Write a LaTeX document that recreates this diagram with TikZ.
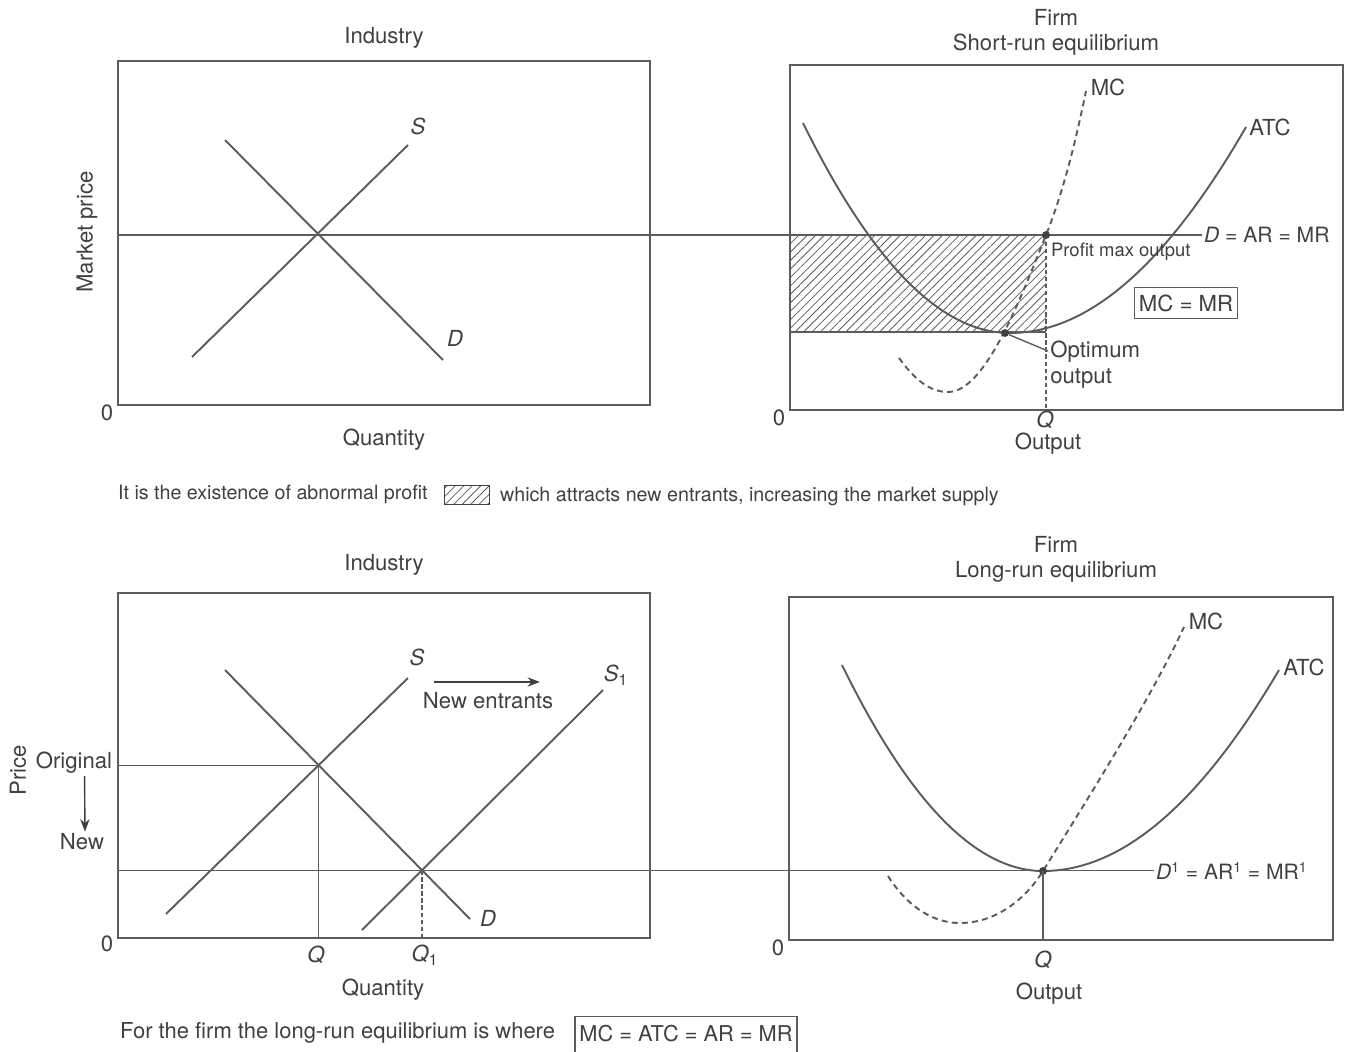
\documentclass[tikz,border=0pt]{standalone}
\usepackage{fontspec}
\setmainfont{TeX Gyre Heros}
\usepackage{xcolor}
\usetikzlibrary{positioning,arrows.meta,patterns.meta}

\definecolor{ink}{gray}{0.25}
\definecolor{linegray}{gray}{0.36}

\begin{document}
\begin{tikzpicture}[
  x=0.02cm, y=-0.02cm,
  lbl/.style={font=\fontsize{12.6}{14.4}\selectfont, text=ink, inner sep=1pt},
  ilbl/.style={lbl, font=\fontsize{12.6}{14.4}\selectfont\itshape},
  captxt/.style={font=\fontsize{11.2}{13}\selectfont, text=ink, inner sep=1pt},
  panel/.style={draw=linegray, line width=0.8pt},
  costline/.style={draw=linegray, line width=1.1pt},
  mcline/.style={draw=linegray, line width=1.1pt, dash pattern=on 3.4pt off 2.4pt},
  pline/.style={draw=linegray, line width=0.8pt},
  qdash/.style={draw=linegray, line width=0.7pt, dash pattern=on 2.4pt off 1.6pt},
  eqdot/.style={circle, fill=ink, inner sep=0pt, minimum size=4.5pt},
  abhatch/.style={pattern={Lines[angle=45, distance=3.4pt, line width=0.45pt]}, pattern color=linegray},
  arr/.style={-{Stealth[length=2.5mm]}, line width=0.8pt, draw=ink},
]
  \useasboundingbox (0,0) rectangle (1348,1051);

  % industry, short run
  \draw[panel] (118,61) rectangle (650,405);
  \node[lbl] (indA) at (384,38) {Industry};
  \node[lbl, rotate=90] (mpA) at (87,232) {Market price};
  \node[lbl] (zeroA) at (107,413) {0};
  \node[lbl] (qtyA) at (384,440) {Quantity};
  \coordinate (sA0) at (192,357); \coordinate (sA1) at (408,145);
  \coordinate (dA0) at (225,140); \coordinate (dA1) at (443,360);
  \draw[costline] (sA0) -- (sA1);
  \draw[costline] (dA0) -- (dA1);
  \node[ilbl] (sAl) at (418,126) {S};
  \node[ilbl] (dAl) at (455,338) {D};
  \coordinate (pA0) at (118,235); \coordinate (pA1) at (1202,235);
  \draw[pline] (pA0) -- (pA1);
  \node[lbl, font=\fontsize{12}{14}\selectfont, anchor=west] (darA) at (pA1) {\textit{D} = AR = MR};

  % firm, short run
  \draw[panel] (790,65) rectangle (1343,410);
  \node[lbl, align=center] (firmA) at (1056,32) {Firm\\Short-run equilibrium};
  \fill[abhatch] (790,235) rectangle (1046,332);
  \draw[pline] (790,332) -- (1046,332);
  \draw[qdash] (1046,235) -- (1046,410);
  \draw[costline] (803,123) .. controls (872,263) and (941,333) .. (1010,333)
    .. controls (1089,333) and (1167,264) .. (1246,127);
  \draw[mcline] (899,358) .. controls (915,380) and (930,392) .. (948,392)
    .. controls (985,392) and (1020,300) .. (1046,235)
    .. controls (1065,188) and (1078,130) .. (1086,91);
  \node[lbl] (mcA) at (1108,87) {MC};
  \node[lbl] (atcA) at (1270,127) {ATC};
  \node[eqdot] (maxdot) at (1046,235) {};
  \node[eqdot] (optdot) at (1005,333) {};
  \node[lbl, font=\fontsize{10.5}{12}\selectfont, anchor=west] (pmax) at (1049,252) {Profit max output};
  \node[lbl, anchor=north west, align=left, inner sep=0pt] (opt) at (1050,341) {Optimum\\output};
  \coordinate (optend) at (1048,351);
  \draw[pline] (optdot) -- (optend);
  \node[lbl, draw=linegray, line width=0.7pt, minimum width=59pt, minimum height=17.5pt, inner sep=2pt] (mcmr) at (1186,303) {MC = MR};
  \node[lbl] (zeroB) at (779,418) {0};
  \node[ilbl] (qA) at (1045,420) {Q};
  \node[lbl] (outA) at (1048,444) {Output};

  % caption
  \node[captxt, anchor=west] (capA) at (116,494) {It is the existence of abnormal profit};
  \node[draw=ink, line width=0.6pt, abhatch, minimum width=26pt, minimum height=11.3pt, inner sep=0pt] (legend) at (467,495) {};
  \node[captxt, anchor=west] (capB) at (498,496) {which attracts new entrants, increasing the market supply};

  % industry, long run
  \draw[panel] (118,593) rectangle (650,938);
  \coordinate (bBL) at (118,938);
  \node[lbl] (indB) at (384,565) {Industry};
  \node[lbl, rotate=90] (priceB) at (18,770) {Price};
  \node[lbl] (orig) at (74,763) {Original};
  \node[lbl] (newp) at (82,842) {New};
  \draw[arr] ([xshift=6pt]orig.south) -- ([xshift=1.7pt]newp.north);
  \node[lbl] (zeroC) at (107,944) {0};
  \coordinate (sB0) at (166,914); \coordinate (sB1) at (408,678);
  \coordinate (dB0) at (225,670); \coordinate (dB1) at (470,919);
  \coordinate (s1B0) at (362,930); \coordinate (s1B1) at (603,690);
  \draw[costline] (sB0) -- (sB1);
  \draw[costline] (dB0) -- (dB1);
  \draw[costline] (s1B0) -- (s1B1);
  \coordinate (eB0) at (intersection of sB0--sB1 and dB0--dB1);
  \coordinate (eB1) at (intersection of s1B0--s1B1 and dB0--dB1);
  \draw[pline] (eB0 -| bBL) -- (eB0) -- (eB0 |- bBL);
  \coordinate (d1end) at (1154,871);
  \draw[pline] (eB1 -| bBL) -- (eB1 -| d1end);
  \draw[qdash] (eB1) -- (eB1 |- bBL);
  \node[ilbl] (sBl) at (417,657) {S};
  \node[ilbl] (dBl) at (488,918) {D};
  \node[lbl] (s1Bl) at (616,675) {\textit{S}\textsubscript{1}};
  \coordinate (neA) at (434,682); \coordinate (neB) at (540,682);
  \draw[arr] (neA) -- (neB);
  \node[lbl] (newent) at (488,701) {New entrants};
  \node[ilbl] (qB) at (316,955) {Q};
  \node[lbl] (q1B) at (425,955) {\textit{Q}\textsubscript{1}};
  \node[lbl] (qtyB) at (383,990) {Quantity};

  % firm, long run
  \draw[panel] (789,597) rectangle (1333,940);
  \node[lbl, align=center] (firmB) at (1056,559) {Firm\\Long-run equilibrium};
  \draw[costline] (842,665) .. controls (909,802) and (976,871) .. (1043,871)
    .. controls (1122,871) and (1200,804) .. (1279,670);
  \draw[mcline] (888,876) .. controls (905,903) and (930,923) .. (960,923)
    .. controls (995,923) and (1025,900) .. (1043,871)
    .. controls (1090,795) and (1150,700) .. (1184,627);
  \node[eqdot] (lrdot) at (1043,871) {};
  \coordinate (lrq) at (1043,940);
  \draw[pline] (lrdot.center) -- (lrq);
  \node[lbl] (mcB) at (1206,621) {MC};
  \node[lbl] (atcB) at (1304,667) {ATC};
  \node[lbl, font=\fontsize{12}{14}\selectfont, anchor=west] (darB) at (d1end) {\textit{D}\textsuperscript{1} = AR\textsuperscript{1} = MR\textsuperscript{1}};
  \node[lbl] (zeroD) at (778,948) {0};
  \node[ilbl] (qC) at (1043,960) {Q};
  \node[lbl] (outB) at (1049,994) {Output};

  % caption
  \node[captxt, font=\fontsize{12.5}{14}\selectfont, anchor=west] (capC) at (118,1033) {For the firm the long-run equilibrium is where};
  \node[captxt, font=\fontsize{12.4}{14}\selectfont, minimum width=125.9pt, minimum height=19.8pt] (lrbox) at (686,1034) {MC = ATC = AR = MR};
  \draw[panel, line width=0.7pt] (lrbox.south west) |- (lrbox.north east) -- (lrbox.south east);
\end{tikzpicture}
\end{document}
